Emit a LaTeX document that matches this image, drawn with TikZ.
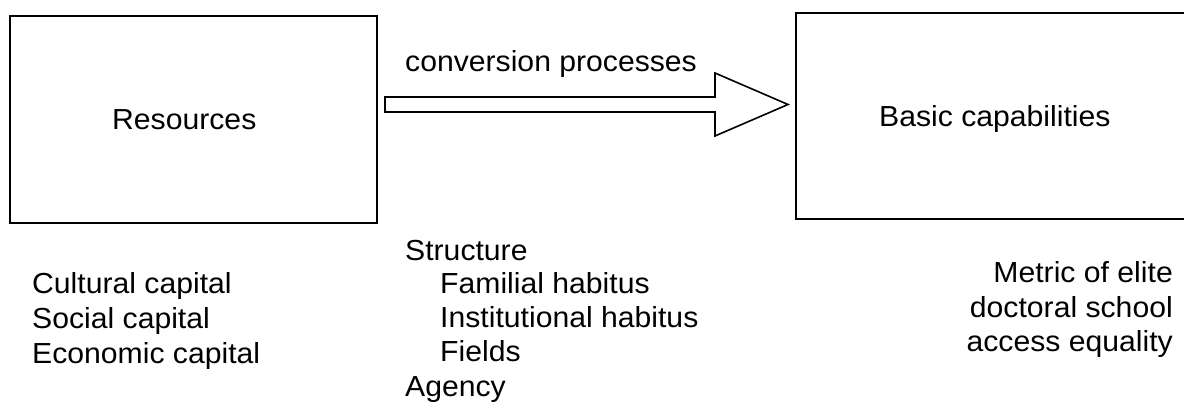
\documentclass[tikz,border=0pt]{standalone}
\usepackage{fontspec}
\setmainfont[FakeStretch=1.04]{Liberation Sans}
\begin{document}
\begin{tikzpicture}[x=1pt,y=-1pt,
  box/.style={draw, line width=1.6pt, inner sep=0pt},
  lbl/.style={inner sep=0pt, font=\fontsize{29}{34.5}\selectfont},
  blockarrow/.style={draw, line width=1.6pt, line join=miter},
  ]
\useasboundingbox (0,0) rectangle (1184,403);
\clip (0,0) rectangle (1184,403);
% boxes
\node[box, minimum width=367pt, minimum height=207pt] (res) at (193.5,119.5) {};
\node[box, minimum width=399pt, minimum height=206pt] (cap) at (995.5,116) {};
% block arrow
\coordinate (a1) at (788,104.5);
\draw[blockarrow] (385,97) -- (715,97) -- (715,73) -- (a1) -- (715,136) -- (715,112) -- (385,112) -- cycle;
% labels
\node[lbl, anchor=base west] (conv) at (405,72) {conversion processes};
\node[lbl, anchor=base west] (restxt) at (112,130) {Resources};
\node[lbl, anchor=base west] (captxt) at (879,127) {Basic capabilities};
% left list
\node[lbl, anchor=base west] (l1) at (32,294) {Cultural capital};
\node[lbl, anchor=base west] (l2) at (32,329) {Social capital};
\node[lbl, anchor=base west] (l3) at (32,363) {Economic capital};
% middle list
\node[lbl, anchor=base west] (m1) at (405,261) {Structure};
\node[lbl, anchor=base west] (m2) at (440,294) {Familial habitus};
\node[lbl, anchor=base west] (m3) at (440,328) {Institutional habitus};
\node[lbl, anchor=base west] (m4) at (440,362) {Fields};
\node[lbl, anchor=base west] (m5) at (405,396) {Agency};
% right list
\node[lbl, anchor=base east] (r1) at (1173,283) {Metric of elite};
\node[lbl, anchor=base east] (r2) at (1173,318) {doctoral school};
\node[lbl, anchor=base east] (r3) at (1173,352) {access equality};
\end{tikzpicture}
\end{document}
